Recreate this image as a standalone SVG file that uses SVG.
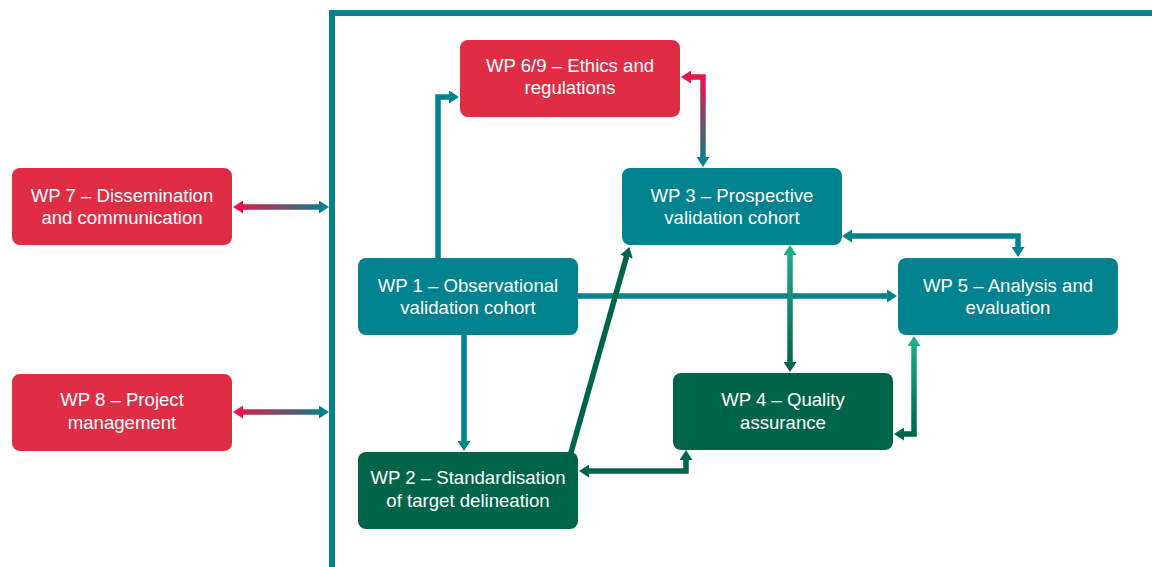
<svg xmlns="http://www.w3.org/2000/svg" width="1152" height="567" viewBox="0 0 1152 567">
<style>
.box{stroke:none}
.red{fill:#E02D46}
.teal{fill:#00838F}
.dark{fill:#006548}
.lbl{font-family:"Liberation Sans",Arial,sans-serif;font-size:18.6px;fill:#ffffff;text-anchor:middle}
.c{fill:none;stroke-width:5.5}
</style>
<defs>
<marker id="aRed" viewBox="0 0 10 13" refX="4" refY="6.5" markerWidth="10" markerHeight="13" markerUnits="userSpaceOnUse" orient="auto-start-reverse"><path d="M0,0 L10,6.5 L0,13 z" fill="#E8154A"/></marker>
<marker id="aTeal" viewBox="0 0 10 13" refX="4" refY="6.5" markerWidth="10" markerHeight="13" markerUnits="userSpaceOnUse" orient="auto-start-reverse"><path d="M0,0 L10,6.5 L0,13 z" fill="#00838F"/></marker>
<marker id="aDark" viewBox="0 0 10 13" refX="4" refY="6.5" markerWidth="10" markerHeight="13" markerUnits="userSpaceOnUse" orient="auto-start-reverse"><path d="M0,0 L10,6.5 L0,13 z" fill="#006548"/></marker>
<marker id="aLight" viewBox="0 0 10 13" refX="4" refY="6.5" markerWidth="10" markerHeight="13" markerUnits="userSpaceOnUse" orient="auto-start-reverse"><path d="M0,0 L10,6.5 L0,13 z" fill="#22AA8C"/></marker>
<linearGradient id="g7" gradientUnits="userSpaceOnUse" x1="234" y1="0" x2="328" y2="0"><stop offset="0" stop-color="#E8154A"/><stop offset="1" stop-color="#00838F"/></linearGradient>
<linearGradient id="g69" gradientUnits="userSpaceOnUse" x1="0" y1="80" x2="0" y2="162"><stop offset="0" stop-color="#E8154A"/><stop offset="1" stop-color="#00838F"/></linearGradient>
<linearGradient id="g34" gradientUnits="userSpaceOnUse" x1="0" y1="250" x2="0" y2="366"><stop offset="0" stop-color="#22AA8C"/><stop offset="1" stop-color="#006548"/></linearGradient>
<linearGradient id="g45" gradientUnits="userSpaceOnUse" x1="0" y1="342" x2="0" y2="434"><stop offset="0" stop-color="#22AA8C"/><stop offset="1" stop-color="#006548"/></linearGradient>
</defs>
<path id="frame" d="M332,567 V13 H1152" fill="none" stroke="#00838F" stroke-width="6"/>
<g id="connectors">
<path class="c" d="M239,207 H323" stroke="url(#g7)" marker-start="url(#aRed)" marker-end="url(#aTeal)"/>
<path class="c" d="M239,412 H323" stroke="url(#g7)" marker-start="url(#aRed)" marker-end="url(#aTeal)"/>
<path class="c" d="M687,77 H703 V161" stroke="url(#g69)" marker-start="url(#aRed)" marker-end="url(#aTeal)"/>
<path class="c" d="M438,258 V97 H453" stroke="#00838F" marker-end="url(#aTeal)"/>
<path class="c" d="M464,335 V445" stroke="#00838F" marker-end="url(#aTeal)"/>
<path class="c" d="M578,296 H891" stroke="#00838F" marker-end="url(#aTeal)"/>
<path class="c" d="M570,456 L627.6,252.8" stroke="#006548" marker-end="url(#aDark)"/>
<path class="c" d="M585,471 H686 V456" stroke="#006548" marker-start="url(#aDark)" marker-end="url(#aDark)"/>
<path class="c" d="M790,251 V366" stroke="url(#g34)" marker-start="url(#aLight)" marker-end="url(#aDark)"/>
<path class="c" d="M848,236 H1018 V251" stroke="#00838F" marker-start="url(#aTeal)" marker-end="url(#aTeal)"/>
<path class="c" d="M914,342 V434 H900" stroke="url(#g45)" marker-start="url(#aLight)" marker-end="url(#aDark)"/>
</g>
<g id="wp7"><rect class="box red" x="12" y="168" width="220" height="77" rx="8"/><text class="lbl" x="122" y="202">WP 7 – Dissemination</text><text class="lbl" x="122" y="224">and communication</text></g>
<g id="wp8"><rect class="box red" x="12" y="374" width="220" height="77" rx="8"/><text class="lbl" x="122" y="406">WP 8 – Project</text><text class="lbl" x="122" y="429">management</text></g>
<g id="wp69"><rect class="box red" x="460" y="40" width="220" height="77" rx="8"/><text class="lbl" x="570" y="72">WP 6/9 – Ethics and</text><text class="lbl" x="570" y="94">regulations</text></g>
<g id="wp3"><rect class="box teal" x="622" y="168" width="220" height="77" rx="8"/><text class="lbl" x="732" y="202">WP 3 – Prospective</text><text class="lbl" x="732" y="224">validation cohort</text></g>
<g id="wp1"><rect class="box teal" x="358" y="258" width="220" height="77" rx="8"/><text class="lbl" x="468" y="292">WP 1 – Observational</text><text class="lbl" x="468" y="314">validation cohort</text></g>
<g id="wp5"><rect class="box teal" x="898" y="258" width="220" height="77" rx="8"/><text class="lbl" x="1008" y="292">WP 5 – Analysis and</text><text class="lbl" x="1008" y="314">evaluation</text></g>
<g id="wp4"><rect class="box dark" x="673" y="373" width="220" height="77" rx="8"/><text class="lbl" x="783" y="406">WP 4 – Quality</text><text class="lbl" x="783" y="429">assurance</text></g>
<g id="wp2"><rect class="box dark" x="358" y="452" width="220" height="77" rx="8"/><text class="lbl" x="468" y="484">WP 2 – Standardisation</text><text class="lbl" x="468" y="507">of target delineation</text></g>
</svg>
